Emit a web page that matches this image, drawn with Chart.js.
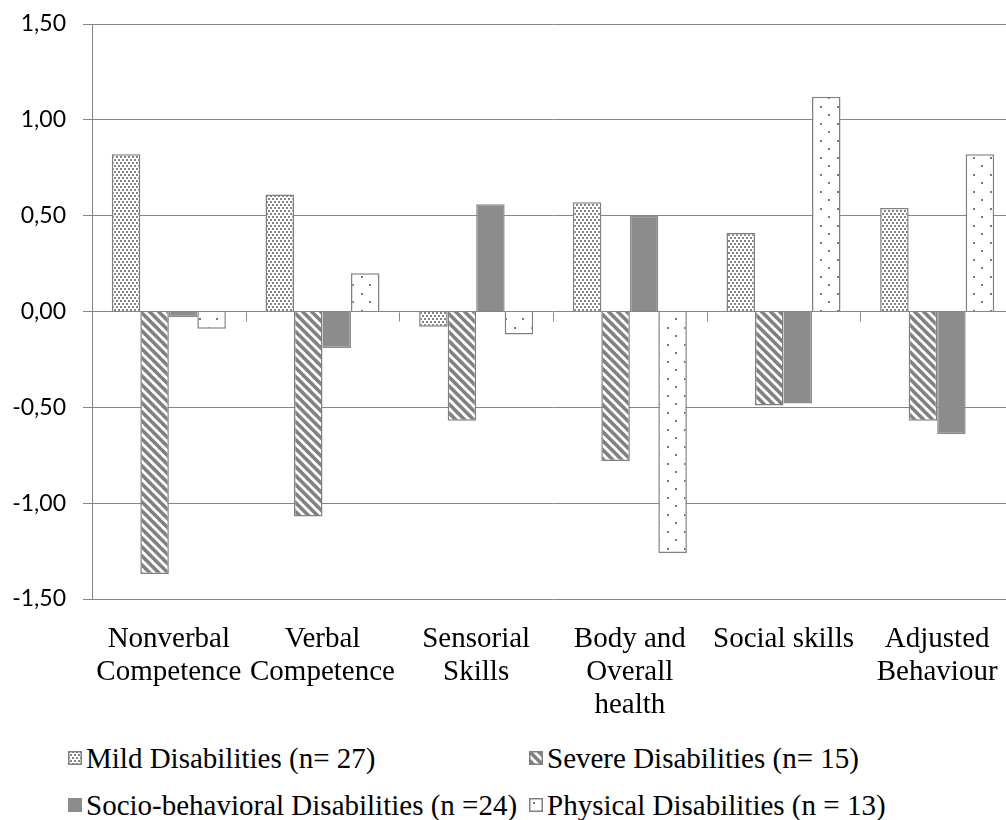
<!DOCTYPE html>
<html>
<head>
<meta charset="utf-8">
<script src="https://cdn.jsdelivr.net/npm/chart.js@4.4.1/dist/chart.umd.min.js"></script>
<style>
    body { margin: 0; background: #fff; overflow: hidden; width: 1006px; height: 820px; position: relative; }
    #wrap { position: absolute; left: 0; top: 0; width: 1020px; height: 740px; }
    .item { position: absolute; height: 34px; display: flex; align-items: center; white-space: nowrap;
        font-family: "Liberation Serif", "Times New Roman", serif; font-size: 29px; color: #000; }
    .item canvas { margin-right: 4px; }
</style>
</head>
<body>
<div id="wrap"><canvas id="myChart" width="1020" height="740"></canvas></div>
<div id="legend"></div>
<script>
const categories = [
    ["Nonverbal", "Competence"],
    ["Verbal", "Competence"],
    ["Sensorial", "Skills"],
    ["Body and", "Overall", "health"],
    "Social skills",
    ["Adjusted", "Behaviour"]
];
const seriesNames = [
    "Mild Disabilities (n= 27)",
    "Severe Disabilities (n= 15)",
    "Socio-behavioral Disabilities (n =24)",
    "Physical Disabilities (n = 13)"
];
const mild = [0.82, 0.61, -0.08, 0.57, 0.41, 0.54];
const severe = [-1.37, -1.07, -0.57, -0.78, -0.49, -0.57];
const socio = [-0.03, -0.19, 0.56, 0.50, -0.48, -0.64];
const physical = [-0.09, 0.20, -0.12, -1.26, 1.12, 0.82];
const yTicks = [-1.5, -1.0, -0.5, 0, 0.5, 1.0, 1.5];

const gray = '#868686';

// little tiles used as fills
function makePattern(kind) {
    let c = document.createElement('canvas');
    let g = c.getContext('2d');
    if (kind === 'fine') {
        c.width = 4; c.height = 6;
        g.fillStyle = '#fff'; g.fillRect(0, 0, 4, 6);
        g.fillStyle = '#858585';
        g.fillRect(0, 0, 2, 2);
        g.fillRect(2, 3, 2, 2);
    } else if (kind === 'stripe') {
        c.width = 9; c.height = 9;
        g.fillStyle = '#fff'; g.fillRect(0, 0, 9, 9);
        g.strokeStyle = '#808080'; g.lineWidth = 3.6;
        for (let k = -9; k <= 9; k += 9) {
            g.beginPath();
            g.moveTo(k - 2, -2);
            g.lineTo(k + 11, 11);
            g.stroke();
        }
    } else if (kind === 'sparse') {
        c.width = 17; c.height = 17;
        g.fillStyle = '#fff'; g.fillRect(0, 0, 17, 17);
        g.fillStyle = '#7a7a7a';
        g.fillRect(4, 4, 2, 2);
        g.fillRect(12, 12, 2, 2);
    }
    return g.createPattern(c, 'repeat');
}

const ctx = document.getElementById('myChart').getContext('2d');
const fills = [makePattern('fine'), makePattern('stripe'), '#8c8c8c', makePattern('sparse')];
const borders = ['#808080', '#808080', '#8c8c8c', '#808080'];
const values = [mild, severe, socio, physical];

// tick marks on the category axis, which crosses at 0
const zeroTicks = {
    id: 'zeroTicks',
    afterDatasetsDraw(chart) {
        let c = chart.ctx;
        let x = chart.scales.x;
        let y0 = Math.round(chart.scales.y.getPixelForValue(0)) + 0.5;
        c.save();
        c.strokeStyle = gray;
        c.lineWidth = 1;
        for (let i = 0; i <= categories.length; i++) {
            let px = Math.round(x.getPixelForValue(i - 0.5)) + 0.5;
            c.beginPath();
            c.moveTo(px, y0);
            c.lineTo(px, y0 + 9);
            c.stroke();
        }
        c.restore();
    }
};

const data = {
    labels: categories,
    datasets: seriesNames.map((name, i) => ({
        label: name,
        data: values[i],
        backgroundColor: fills[i],
        borderColor: borders[i],
        borderWidth: 1.5,
        categoryPercentage: 0.742,
        barPercentage: 1
    }))
};

const config = {
    type: 'bar',
    data: data,
    plugins: [zeroTicks],
    options: {
        responsive: false,
        animation: false,
        layout: { padding: { top: 24, right: 6, left: 0, bottom: 0 } },
        plugins: { legend: { display: false }, tooltip: { enabled: false } },
        scales: {
            x: {
                grid: { display: false },
                border: { display: false },
                ticks: {
                    color: '#000',
                    padding: 16,
                    maxRotation: 0,
                    autoSkip: false,
                    font: { family: 'Liberation Serif', size: 29, lineHeight: 1.14 }
                },
                afterFit: s => { s.height = 141; }
            },
            y: {
                min: -1.5,
                max: 1.5,
                afterBuildTicks: s => { s.ticks = yTicks.map(v => ({ value: v })); },
                ticks: {
                    color: '#000',
                    padding: 17,
                    font: { family: 'Lato', size: 23 },
                    callback: v => v.toFixed(2).replace('.', ',')
                },
                grid: { color: gray, tickLength: 9, lineWidth: 1 },
                border: { display: true, color: gray, width: 1 },
                afterFit: s => {
                    s.width = 92;
                    s.paddingTop = 0;
                    s.paddingBottom = 0;
                }
            }
        }
    }
};

const myChart = new Chart(ctx, config);

// legend, two rows like the original
const legendPos = [[68, 741], [529, 741], [68, 788], [529, 788]];
let legend = document.getElementById('legend');
seriesNames.forEach((name, i) => {
    let item = document.createElement('div');
    item.className = 'item';
    item.style.left = legendPos[i][0] + 'px';
    item.style.top = legendPos[i][1] + 'px';
    let sw = document.createElement('canvas');
    sw.width = 14; sw.height = 14;
    let g = sw.getContext('2d');
    g.fillStyle = fills[i];
    g.fillRect(0, 0, 14, 14);
    g.strokeStyle = borders[i];
    g.lineWidth = 1.5;
    g.strokeRect(0.75, 0.75, 12.5, 12.5);
    let txt = document.createElement('span');
    txt.textContent = name;
    item.appendChild(sw);
    item.appendChild(txt);
    legend.appendChild(item);
});
</script>
</body>
</html>
